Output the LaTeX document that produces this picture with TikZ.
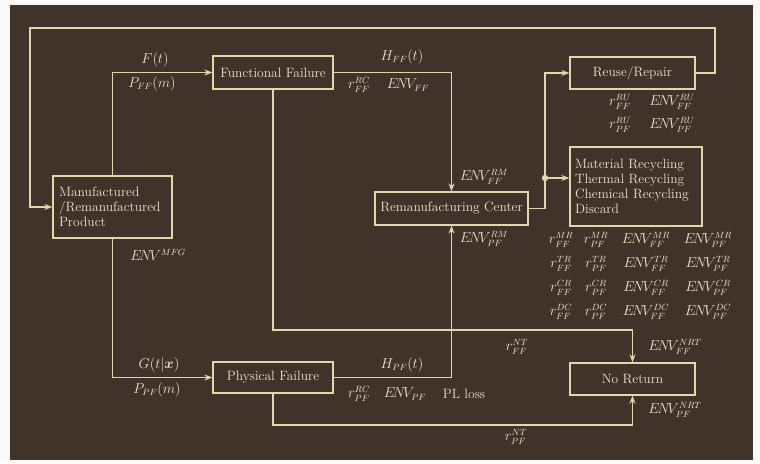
\documentclass[tikz,border=0pt]{standalone}
\usepackage{amsmath,bm}
\usetikzlibrary{arrows.meta}
\definecolor{bgc}{RGB}{64,52,42}
\definecolor{ln}{RGB}{228,214,172}
\definecolor{tx}{RGB}{236,228,205}
\tikzset{
  box/.style={draw=ln, line width=1.3pt, text=tx, inner sep=3pt, font=\fontsize{13.5}{15}\selectfont},
  arr/.style={draw=ln, line width=1.3pt, -{Stealth[length=8pt,width=6pt]}},
  lab/.style={text=tx, inner sep=0.5pt, font=\fontsize{13.5}{14}\selectfont},
}
\begin{document}
\begin{tikzpicture}[x=1pt,y=-1pt]
\useasboundingbox (0,0) rectangle (760,463);
\fill[white!95!gray] (0,0) rectangle (760,463);
\fill[bgc] (10,5) rectangle (753,460);
% boxes
\node[box, minimum width=119pt, minimum height=62pt, align=left, text width=107pt] (mfg) at (112.5,207) {Manufactured\\/Remanufactured\\Product};
\node[box, minimum width=120pt, minimum height=33pt] (ff) at (273,72.5) {Functional Failure};
\node[box, minimum width=120pt, minimum height=31pt] (pf) at (273,377.5) {Physical Failure};
\node[box, minimum width=153pt, minimum height=33pt] (rc) at (451.5,208.5) {Remanufacturing Center};
\node[box, minimum width=125pt, minimum height=32pt] (ru) at (632.5,73) {Reuse/Repair};
\node[box, minimum width=132pt, minimum height=79pt, align=left, text width=122pt] (rec) at (636,186.5) {Material Recycling\\Thermal Recycling\\Chemical Recycling\\Discard};
\node[box, minimum width=125pt, minimum height=32pt] (nr) at (632.5,379) {No Return};
% coordinates
\coordinate (tr) at (715,28);
\coordinate (tl) at (30,28);
\coordinate (c1) at (273,330);
\coordinate (c2) at (273,425);
\coordinate (jr) at (545,73);
\coordinate (j) at (545,178);
% connectors
\draw[arr] (ru.east) -| (tr) -- (tl) |- (mfg.west);
\draw[arr] (mfg.north) |- (ff.west);
\draw[arr] (ff.east) -| (rc.north);
\draw[arr] (ff.south) -- (c1) -| (nr.north);
\draw[arr] (mfg.south) |- (pf.west);
\draw[arr] (pf.east) -| (rc.south);
\draw[arr] (pf.south) -- (c2) -| (nr.south);
\draw[arr] (rc.east) -| (jr) -- (ru.west);
\draw[arr] (j) -- (j -| rec.west);
\fill[ln] (j) circle (3.2pt);
% labels
\node[lab] (l1) at (155,60) {$F(t)$};
\node[lab] (l2) at (152,84) {$P_{FF}(m)$};
\node[lab] (l3) at (402,57) {$H_{FF}(t)$};
\node[lab] (l4) at (359,85) {$r^{RC}_{FF}$};
\node[lab] (l5) at (408,85) {$E\!N\!V_{FF}$};
\node[lab] (l6) at (484,177) {$E\!N\!V^{RM}_{FF}$};
\node[lab] (l7) at (484,239) {$E\!N\!V^{RM}_{PF}$};
\node[lab] (l8) at (158,255) {$E\!N\!V^{MFG}$};
\node[lab] (l9) at (159,365) {$G(t|\bm{x})$};
\node[lab] (l10) at (157,390) {$P_{PF}(m)$};
\node[lab] (l11) at (402,365) {$H_{PF}(t)$};
\node[lab] (l12) at (359,394) {$r^{RC}_{PF}$};
\node[lab] (l13) at (405,394) {$E\!N\!V_{PF}$};
\node[lab] (l14) at (464,394) {PL loss};
\node[lab] (l15) at (517,347) {$r^{NT}_{FF}$};
\node[lab] (l16) at (675,347) {$E\!N\!V^{NRT}_{FF}$};
\node[lab] (l17) at (516,437) {$r^{NT}_{PF}$};
\node[lab] (l18) at (675,410) {$E\!N\!V^{NRT}_{PF}$};
\node[lab] (l19) at (620,102) {$r^{RU}_{FF}$};
\node[lab] (l20) at (672,102) {$E\!N\!V^{RU}_{FF}$};
\node[lab] (l21) at (620,125) {$r^{RU}_{PF}$};
\node[lab] (l22) at (672,125) {$E\!N\!V^{RU}_{PF}$};
\foreach \s/\y [count=\i] in {MR/240,TR/264,CR/288,DC/312}{
  \node[lab] (g\i a) at (561,\y) {$r^{\s}_{FF}$};
  \node[lab] (g\i b) at (596,\y) {$r^{\s}_{PF}$};
  \node[lab] (g\i c) at (646,\y) {$E\!N\!V^{\s}_{FF}$};
  \node[lab] (g\i d) at (708,\y) {$E\!N\!V^{\s}_{PF}$};
}
\end{tikzpicture}
\end{document}
